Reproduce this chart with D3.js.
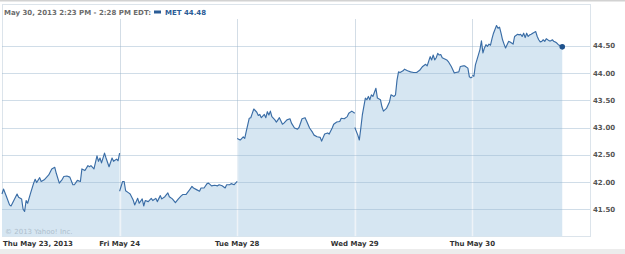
<!DOCTYPE html>
<html>
<head>
<meta charset="utf-8">
<script src="https://cdn.jsdelivr.net/npm/d3@7"></script>
<style>
body { margin: 0; background: #fff; }
text { font-family: "DejaVu Sans", Verdana, sans-serif; }
</style>
</head>
<body>
<svg id="chart" width="625" height="254"></svg>
<script>
// session days shown on the x axis
const dayLabels = ["Thu May 23, 2013", "Fri May 24", "Tue May 28", "Wed May 29", "Thu May 30"];

// [minutes after 9:30 open, price]
const day1 = [[0,41.78],[5,41.87],[15,41.73],[25,41.58],[30,41.56],[40,41.67],[50,41.78],[55,41.72],[65,41.69],[70,41.50],[75,41.46],[80,41.66],[85,41.61],[95,41.80],[105,41.98],[110,42.05],[115,41.99],[125,42.08],[130,42.01],[140,42.04],[155,42.13],[165,42.24],[175,42.27],[180,42.16],[190,41.98],[200,42.05],[205,42.10],[215,42.11],[225,42.09],[235,41.95],[240,41.95],[250,42.03],[260,42.01],[265,42.24],[275,42.21],[285,42.30],[290,42.28],[295,42.30],[305,42.24],[315,42.48],[320,42.38],[325,42.44],[330,42.35],[340,42.53],[345,42.44],[355,42.28],[365,42.44],[370,42.38],[380,42.42],[385,42.39],[390,42.53]];
const day2 = [[0,41.83],[10,42.01],[15,42.01],[20,41.84],[30,41.80],[35,41.78],[45,41.67],[50,41.58],[60,41.70],[65,41.61],[75,41.69],[80,41.56],[85,41.66],[95,41.64],[105,41.70],[110,41.66],[120,41.70],[125,41.64],[135,41.75],[140,41.69],[150,41.73],[160,41.80],[165,41.73],[175,41.69],[185,41.62],[195,41.69],[205,41.75],[210,41.77],[220,41.77],[230,41.84],[240,41.92],[245,41.89],[255,41.86],[265,41.83],[270,41.89],[280,41.89],[290,41.97],[295,41.98],[305,41.93],[315,41.94],[325,41.93],[330,41.95],[340,41.93],[350,41.89],[355,41.95],[365,41.95],[370,41.97],[380,41.95],[390,42.01]];
const day3 = [[0,42.80],[10,42.77],[20,42.83],[25,42.80],[30,42.93],[40,43.17],[45,43.18],[50,43.26],[55,43.34],[65,43.28],[70,43.22],[75,43.24],[80,43.18],[90,43.24],[95,43.18],[100,43.29],[105,43.23],[110,43.30],[115,43.20],[125,43.14],[130,43.10],[140,43.18],[150,43.06],[155,43.08],[165,43.14],[175,43.16],[180,43.08],[190,42.99],[200,42.97],[205,43.00],[215,43.16],[225,43.18],[230,43.12],[240,42.99],[250,42.91],[255,42.86],[265,42.83],[275,42.82],[280,42.75],[290,42.88],[300,42.90],[305,42.88],[315,42.99],[320,43.06],[330,43.10],[340,43.11],[345,43.17],[355,43.16],[365,43.20],[370,43.26],[380,43.30],[390,43.26]];
const day4 = [[0,43.00],[10,42.86],[15,42.77],[20,42.99],[25,43.23],[35,43.54],[40,43.51],[45,43.57],[50,43.51],[55,43.60],[60,43.57],[70,43.72],[75,43.54],[85,43.51],[90,43.38],[95,43.30],[105,43.35],[110,43.41],[115,43.47],[120,43.60],[130,43.57],[135,43.60],[140,43.87],[145,44.02],[150,44.01],[160,44.04],[165,44.07],[175,44.04],[185,44.02],[195,44.01],[205,44.01],[215,44.05],[225,44.12],[235,44.16],[240,44.13],[250,44.30],[255,44.24],[260,44.33],[265,44.24],[270,44.28],[275,44.36],[280,44.33],[285,44.34],[290,44.28],[305,44.24],[310,44.21],[320,44.12],[330,44.00],[335,44.01],[345,44.02],[350,44.12],[360,44.13],[365,44.13],[375,44.09],[380,43.93],[385,43.91],[390,43.93]];
const day5 = [[0,43.96],[5,43.94],[10,44.15],[15,44.24],[25,44.43],[30,44.59],[35,44.37],[40,44.46],[45,44.52],[50,44.49],[55,44.53],[60,44.51],[65,44.63],[70,44.73],[80,44.87],[85,44.82],[90,44.84],[95,44.73],[100,44.61],[105,44.53],[110,44.46],[115,44.52],[120,44.58],[125,44.57],[130,44.55],[135,44.53],[140,44.67],[150,44.71],[155,44.70],[160,44.71],[165,44.67],[170,44.73],[175,44.65],[180,44.73],[185,44.67],[190,44.70],[195,44.71],[200,44.73],[210,44.76],[215,44.67],[220,44.61],[225,44.57],[230,44.58],[235,44.61],[240,44.58],[245,44.63],[255,44.59],[260,44.59],[265,44.61],[270,44.58],[275,44.57],[280,44.55],[285,44.52],[298,44.48]];

const yTicks = [41.5, 42, 42.5, 43, 43.5, 44, 44.5];
const headerText = "May 30, 2013 2:23 PM - 2:28 PM EDT:";
const symbol = "MET";
const lastPrice = 44.48;
const sessionMinutes = 390;

const days = [day1, day2, day3, day4, day5];

const svg = d3.select("#chart");
const plotLeft = 2, plotRight = 590, plotTop = 19, plotBottom = 236.5;

const x = d3.scaleLinear().domain([0, dayLabels.length]).range([plotLeft, plotRight]);
const y = d3.scaleLinear().domain([41, 45]).range([plotBottom, 18.5]);

const lineColor = "#3a6da6";
const fillColor = "#d6e6f2";

// page chrome
svg.append("rect").attr("x", 0).attr("y", 0).attr("width", 625).attr("height", 1.5).attr("fill", "#d2d2d2");
svg.append("rect").attr("x", 0).attr("y", 249).attr("width", 625).attr("height", 5).attr("fill", "#ececec");
svg.append("rect")
    .attr("x", plotLeft + 0.5).attr("y", 4.5)
    .attr("width", plotRight - plotLeft).attr("height", plotBottom - 4.5)
    .attr("fill", "none").attr("stroke", "#dce4eb");

// vertical day separators (under the fill)
svg.append("g")
    .selectAll("line")
    .data(d3.range(1, dayLabels.length))
    .enter()
    .append("line")
    .attr("x1", d => Math.round(x(d)) + 0.5).attr("x2", d => Math.round(x(d)) + 0.5)
    .attr("y1", plotTop).attr("y2", plotBottom)
    .attr("stroke", "#d3dde6");

let area = d3.area()
    .x(d => x(d.day + d[0] / sessionMinutes))
    .y0(plotBottom)
    .y1(d => y(d[1]));

let line = d3.line()
    .x(d => x(d.day + d[0] / sessionMinutes))
    .y(d => y(d[1]));

let series = days.map(function (pts, i) {
    return pts.map(function (p) {
        let q = [p[0], p[1]];
        q.day = i;
        return q;
    });
});

svg.append("clipPath").attr("id", "fillclip")
    .selectAll("path")
    .data(series)
    .enter()
    .append("path")
    .attr("d", area);

svg.append("g")
    .selectAll("path")
    .data(series)
    .enter()
    .append("path")
    .attr("d", area)
    .attr("fill", fillColor);

// day separators show white inside the fill
svg.append("g")
    .attr("clip-path", "url(#fillclip)")
    .selectAll("line")
    .data(d3.range(1, dayLabels.length))
    .enter()
    .append("line")
    .attr("x1", d => Math.round(x(d)) + 0.5).attr("x2", d => Math.round(x(d)) + 0.5)
    .attr("y1", plotTop).attr("y2", plotBottom)
    .attr("stroke", "#eef3f8").attr("stroke-width", 1.5);

// horizontal gridlines
svg.append("g")
    .selectAll("line")
    .data(yTicks)
    .enter()
    .append("line")
    .attr("x1", plotLeft).attr("x2", plotRight)
    .attr("y1", d => Math.round(y(d)) + 0.5).attr("y2", d => Math.round(y(d)) + 0.5)
    .attr("stroke", "rgba(150,180,205,0.45)");

svg.append("text")
    .attr("x", 5).attr("y", 234)
    .attr("font-size", "7px")
    .attr("fill", "#aebfcd")
    .text("\u00a9 2013 Yahoo! Inc.");

svg.append("g")
    .selectAll("path")
    .data(series)
    .enter()
    .append("path")
    .attr("d", line)
    .attr("fill", "none")
    .attr("stroke", lineColor)
    .attr("stroke-width", 1.15)
    .attr("stroke-linejoin", "round");

let last = series[series.length - 1][series[series.length - 1].length - 1];
svg.append("circle")
    .attr("cx", x(last.day + last[0] / sessionMinutes))
    .attr("cy", y(last[1]))
    .attr("r", 2.8)
    .attr("fill", "#1f528c");

// y axis labels
svg.append("g")
    .selectAll("text")
    .data(yTicks)
    .enter()
    .append("text")
    .attr("x", 593)
    .attr("y", d => y(d) + 2.5)
    .attr("font-size", "7px")
    .attr("font-weight", "bold")
    .attr("fill", "#555")
    .text(d => d3.format(".2f")(d));

// x axis labels
svg.append("g")
    .selectAll("text")
    .data(dayLabels)
    .enter()
    .append("text")
    .attr("x", (d, i) => i == 0 ? 3 : x(i))
    .attr("y", 246)
    .attr("text-anchor", (d, i) => i == 0 ? "start" : "middle")
    .attr("font-size", "7px")
    .attr("font-weight", "bold")
    .attr("fill", "#333")
    .text(d => d);

// header
svg.append("text")
    .attr("x", 4).attr("y", 15)
    .attr("font-size", "7px")
    .attr("font-weight", "bold")
    .attr("fill", "#6b6b6b")
    .text(headerText);

svg.append("rect")
    .attr("x", 154).attr("y", 10.5).attr("width", 7).attr("height", 3)
    .attr("fill", "#2b5c96");

svg.append("text")
    .attr("x", 165).attr("y", 15)
    .attr("font-size", "7px")
    .attr("font-weight", "bold")
    .attr("fill", "#2b5c96")
    .text(symbol + " " + d3.format(".2f")(lastPrice));
</script>
</body>
</html>
